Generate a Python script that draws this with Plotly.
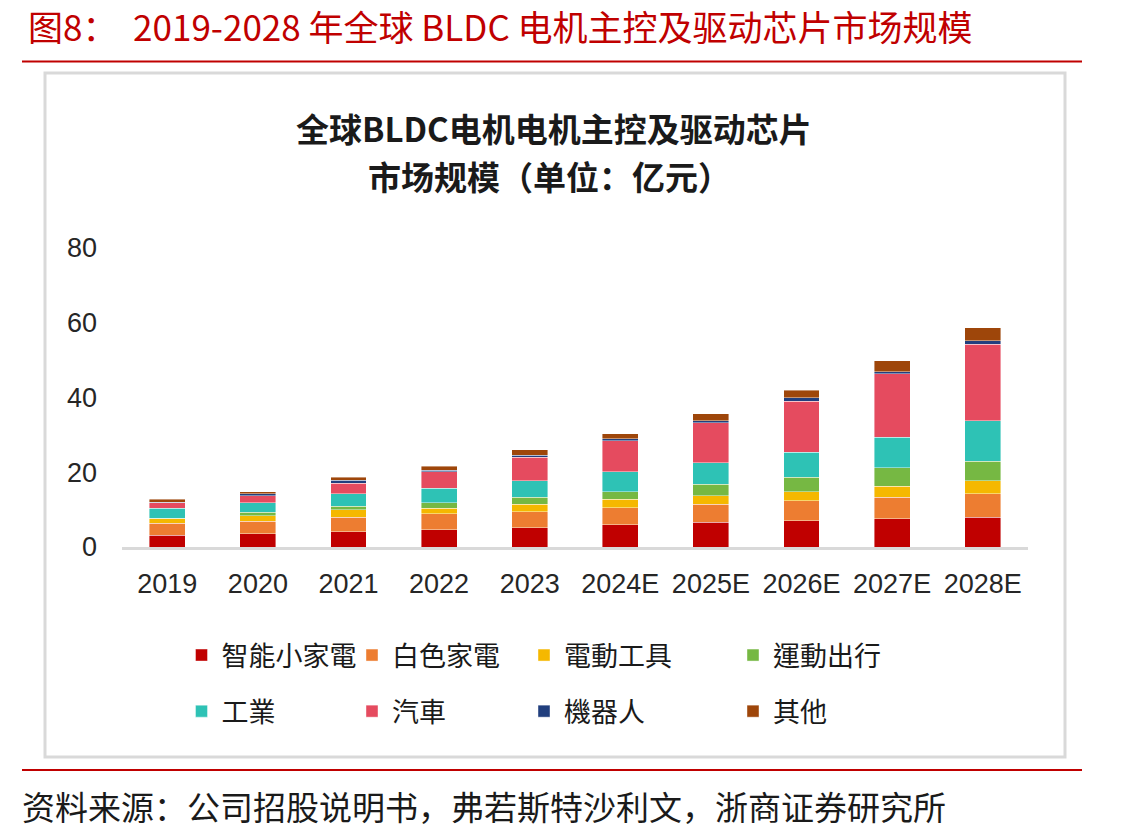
import plotly.graph_objects as go

years = ["2019", "2020", "2021", "2022", "2023", "2024E", "2025E", "2026E", "2027E", "2028E"]
series_names = ["智能小家電", "白色家電", "電動工具", "運動出行", "工業", "汽車", "機器人", "其他"]

smart_home = [3.1, 3.6, 4.1, 4.6, 5.1, 6.0, 6.6, 7.0, 7.5, 8.0]
white_goods = [3.3, 3.3, 3.8, 4.3, 4.3, 4.5, 4.8, 5.4, 5.8, 6.3]
power_tools = [1.1, 1.5, 2.1, 1.5, 2.0, 2.3, 2.3, 2.4, 3.0, 3.4]
mobility = [0.2, 0.9, 0.9, 1.5, 1.9, 2.0, 3.1, 3.9, 4.9, 5.3]
industry = [2.7, 2.5, 3.3, 3.8, 4.4, 5.3, 5.7, 6.7, 8.1, 10.8]
auto = [1.5, 1.9, 2.9, 4.4, 6.3, 8.3, 10.7, 13.6, 17.0, 20.4]
robot = [0.1, 0.5, 0.7, 0.5, 0.5, 0.6, 0.6, 1.0, 0.6, 1.0]
others = [0.8, 0.6, 0.8, 1.0, 1.5, 1.3, 1.9, 2.0, 2.9, 3.4]

values = [smart_home, white_goods, power_tools, mobility, industry, auto, robot, others]
colors = ["#C00000", "#ED7D31", "#F5B800", "#76B843", "#2EC2B5", "#E54B5F", "#213F7E", "#9E460A"]
legend_ids = ["legend", "legend2", "legend3", "legend4", "legend", "legend2", "legend3", "legend4"]

y_ticks = [0, 20, 40, 60, 80]

W, H = 1141, 838
L, R, T, B = 122, 1028, 248, 547

def px(x):
    return (x - L) / (R - L)

def py(y):
    return (B - y) / (B - T)

CJK = "Noto Sans CJK SC"
CJK_TC = "Noto Sans CJK TC"

fig = go.Figure()
for name, vals, col, lg in zip(series_names, values, colors, legend_ids):
    fig.add_trace(go.Bar(
        x=years, y=vals, name=name,
        marker=dict(color=col, line=dict(color="rgba(255,255,255,0.7)", width=0.6)),
        legend=lg, legendgroup=name,
    ))

col_x = [203.5, 374, 546, 755]
leg_common = dict(
    orientation="v", xref="container", yref="container",
    xanchor="left", yanchor="top",
    font=dict(family=CJK_TC, size=27, color="#1a1a1a"),
    bgcolor="rgba(0,0,0,0)", borderwidth=0,
    tracegroupgap=18, traceorder="grouped",
)
legends = {}
for i, key in enumerate(["legend", "legend2", "legend3", "legend4"]):
    legends[key] = dict(leg_common, x=(col_x[i] - 22) / W, y=1 - 631 / H)

fig.update_layout(
    width=W, height=H,
    margin=dict(l=L, r=W - R, t=T, b=H - B, autoexpand=False),
    paper_bgcolor="white", plot_bgcolor="white",
    barmode="stack", bargap=0.603,
    showlegend=True,
    **legends,
    xaxis=dict(
        type="category", showgrid=False, showline=True, linecolor="#D9D9D9", linewidth=3,
        ticks="", tickfont=dict(family="Liberation Sans", size=27, color="#262626"),
        ticklabelstandoff=11, fixedrange=True, automargin=False, tickangle=0,
    ),
    yaxis=dict(
        range=[0, 80], tickvals=y_ticks, showgrid=False, showline=False, zeroline=False,
        ticks="", tickfont=dict(family="Liberation Sans", size=27, color="#262626"),
        ticklabelstandoff=24, fixedrange=True, automargin=False,
    ),
)

shapes = [
    dict(type="line", xref="paper", yref="paper", x0=px(22), x1=px(1082), y0=py(61.5), y1=py(61.5),
         line=dict(color="#C00000", width=2)),
    dict(type="line", xref="paper", yref="paper", x0=px(22), x1=px(1082), y0=py(770), y1=py(770),
         line=dict(color="#C00000", width=2)),
    dict(type="rect", xref="paper", yref="paper", x0=px(45), x1=px(1065), y0=py(757), y1=py(73),
         line=dict(color="#D9D9D9", width=3), fillcolor="rgba(0,0,0,0)", layer="below"),
]

annotations = [
    dict(text="图8：  2019-2028 年全球 BLDC 电机主控及驱动芯片市场规模", xref="paper", yref="paper",
         x=px(26), y=py(25), xanchor="left", yanchor="middle", showarrow=False,
         font=dict(family=CJK, size=35, color="#C00000")),
    dict(text="<b>全球BLDC电机电机主控及驱动芯片</b>", xref="paper", yref="paper",
         x=px(554), y=py(128), xanchor="center", yanchor="middle", showarrow=False,
         font=dict(family=CJK, size=33, color="#1a1a1a")),
    dict(text="<b>市场规模（单位：亿元）</b>", xref="paper", yref="paper",
         x=px(549), y=py(176), xanchor="center", yanchor="middle", showarrow=False,
         font=dict(family=CJK, size=33, color="#1a1a1a")),
    dict(text="资料来源：公司招股说明书，弗若斯特沙利文，浙商证券研究所", xref="paper", yref="paper",
         x=px(20), y=py(806), xanchor="left", yanchor="middle", showarrow=False,
         font=dict(family=CJK, size=33, color="#1a1a1a")),
]

fig.update_layout(shapes=shapes, annotations=annotations)
fig.write_html("out.html")
